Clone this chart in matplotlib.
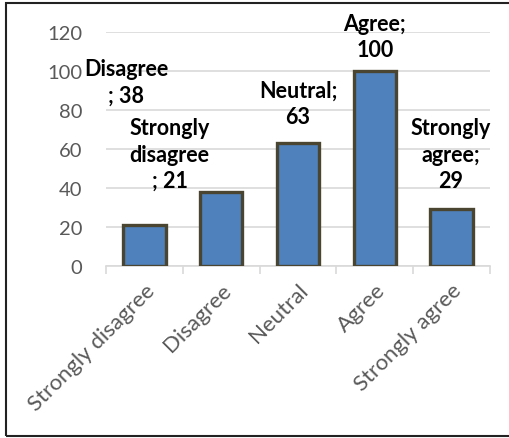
import matplotlib.pyplot as plt
from matplotlib.patches import Rectangle

plt.rcParams["font.family"] = ["Lato", "DejaVu Sans"]

categories = ["Strongly disagree", "Disagree", "Neutral", "Agree", "Strongly agree"]
counts = [21, 38, 63, 100, 29]
yticks = [0, 20, 40, 60, 80, 100, 120]

# label text per bar, wrapped the way the data labels show it
label_text = [
    "Strongly\ndisagree\n; {}",
    "Disagree\n; {}",
    "Neutral;\n{}",
    "Agree;\n{}",
    "Strongly\nagree;\n{}",
]
# label anchor (category offset, y value) - some were dragged off their bars
label_pos = [(0.33, 57.4), (-0.24, 94.4), (2.0, 83.6), (3.0, 117.7), (3.99, 57.4)]

BAR = "#4f81bd"
EDGE = "#4a4530"
GRID = "#d9d9d9"
TXT = "#595959"

fig = plt.figure(figsize=(5.1, 4.39), dpi=100)
ax = fig.add_axes([106 / 510, 1 - 267 / 439, 384 / 510, 234 / 439])

x = list(range(len(categories)))
ax.bar(x, counts, width=0.55, color=BAR, edgecolor=EDGE, linewidth=2.4, zorder=3)

for i, (dx, y) in enumerate(label_pos):
    ax.text(dx, y, label_text[i].format(counts[i]), ha="center", va="center",
            fontsize=15.5, fontweight="bold", linespacing=1.3, color="black",
            clip_on=False, zorder=5)

ax.set_xlim(-0.5, len(categories) - 0.5)
ax.set_ylim(0, 120)
ax.set_yticks(yticks)
ax.yaxis.grid(True, color=GRID, linewidth=1.2, zorder=0)
ax.set_axisbelow(True)

for s in ["left", "right", "top"]:
    ax.spines[s].set_visible(False)
ax.spines["bottom"].set_color(GRID)
ax.spines["bottom"].set_linewidth(1.2)

ax.tick_params(axis="y", length=0, pad=17, labelsize=14.5, labelcolor=TXT)
ax.set_xticks(x)
ax.set_xticklabels(categories, rotation=45, ha="right", va="top",
                   rotation_mode="anchor", fontsize=16, color=TXT)
ax.set_xticks([i - 0.5 for i in range(len(categories) + 1)], minor=True)
ax.tick_params(axis="x", which="major", length=0, pad=10)
ax.tick_params(axis="x", which="minor", length=6, width=1.2, color=GRID)

# chart frame
fig.patches.append(Rectangle((6 / 510, 2 / 439), 1.2, 433 / 439, transform=fig.transFigure,
                             fill=False, edgecolor="#222222", linewidth=1.5))

fig.savefig("out.png", dpi=100)
